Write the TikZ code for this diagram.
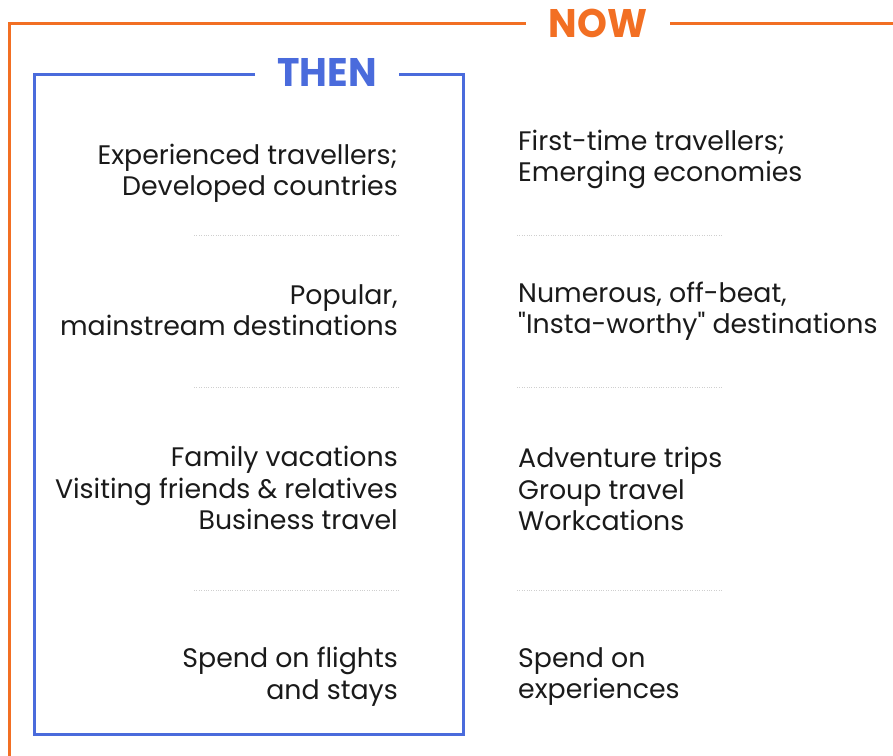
\documentclass[tikz,border=0pt]{standalone}
\usepackage{fontspec}
\setmainfont{Poppins}[Ligatures=TeXOff]
\usepackage{graphicx}
\definecolor{nowor}{HTML}{F26F23}
\definecolor{thenbl}{HTML}{4A6BDC}
\definecolor{txt}{HTML}{1A1A1A}
\definecolor{sep}{HTML}{CFCFCF}
\begin{document}
\begin{tikzpicture}[x=1pt,y=-1pt,
  body/.style={inner sep=0pt, text=txt, font=\fontsize{26.8}{31.5}\selectfont},
  lcol/.style={body, align=right, anchor=east},
  rcol/.style={body, align=left, anchor=west},
  title/.style={inner sep=0pt, font=\fontsize{38}{40}\selectfont\bfseries},
  sepline/.style={sep, line width=1pt, dash pattern=on 1pt off 1.4pt},
  frameor/.style={nowor, line width=3pt},
  framebl/.style={thenbl, line width=3pt}]
\useasboundingbox (0,0) rectangle (893,755);
% frames
\node[title, text=nowor] (now) at (598,23) {\scalebox{1}[1.05]{NOW}};
\node[title, text=thenbl] (then) at (327,72) {\scalebox{1}[1.05]{THEN}};
\coordinate (orA) at (526,23);
\coordinate (orB) at (670,23);
\coordinate (orC) at (895,23);
\coordinate (orTL) at (9,23);
\coordinate (orBL) at (9,757);
\draw[frameor] (orA) -- (orTL) -- (orBL);
\draw[frameor] (orB) -- (orC);
\coordinate (blA) at (255,74);
\coordinate (blB) at (399,74);
\coordinate (blTL) at (34,74);
\coordinate (blBL) at (34,734);
\coordinate (blBR) at (463,734);
\coordinate (blTR) at (463,74);
\draw[framebl] (blA) -- (blTL) -- (blBL) -- (blBR) -- (blTR) -- (blB);
% left column
\node[lcol] (l1) at (398,173.5) {Experienced travellers;\\Developed countries};
\node[lcol] (l2) at (398,310) {Popular,\\mainstream destinations};
\node[lcol] (l3) at (398,488) {Family vacations\\Visiting friends \& relatives\\Business travel};
\node[lcol] (l4) at (398,676.5) {Spend on flights\\and stays};
% right column
\node[rcol] (r1) at (518,159.5) {First-time travellers;\\Emerging economies};
\node[rcol] (r2) at (518,311) {Numerous, off-beat,\\"Insta-worthy" destinations};
\node[rcol] (r3) at (518,489) {Adventure trips\\Group travel\\Workcations};
\node[rcol] (r4) at (518,676.5) {Spend on\\experiences};
% separators
\foreach \y [count=\i] in {235,387,590}{
  \coordinate (sl\i a) at (194,\y); \coordinate (sl\i b) at (400,\y);
  \coordinate (sr\i a) at (517,\y); \coordinate (sr\i b) at (723,\y);
  \draw[sepline] (sl\i a) -- (sl\i b);
  \draw[sepline] (sr\i a) -- (sr\i b);
}
\end{tikzpicture}
\end{document}
